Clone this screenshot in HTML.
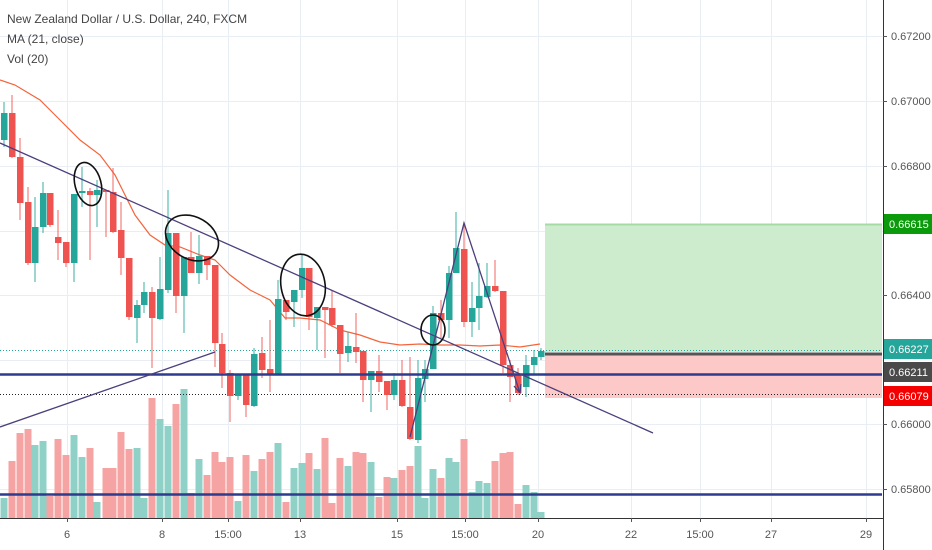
<!DOCTYPE html>
<html><head><meta charset="utf-8">
<style>
html,body{margin:0;padding:0;background:#fff;}
svg{display:block;font-family:"Liberation Sans",sans-serif;}
</style></head>
<body>
<svg id="s" width="932" height="550" viewBox="0 0 932 550" xmlns="http://www.w3.org/2000/svg">
<rect width="932" height="550" fill="#fff"/>
<g id="grid" stroke="#e8eef4" stroke-width="1"></g>
<g id="vol"></g>
<rect x="545" y="224" width="337" height="128" fill="#cdeccd"/>
<line x1="545" y1="224.5" x2="882" y2="224.5" stroke="#a5dba5" stroke-width="2"/>
<rect x="545" y="355" width="337" height="43" fill="#fcc8c8"/>
<line x1="0" y1="350.5" x2="882" y2="350.5" stroke="#26a69a" stroke-dasharray="1,2"/>
<line x1="0" y1="394.5" x2="882" y2="394.5" stroke="#222" stroke-dasharray="1,2"/>
<polyline fill="none" stroke="#f4643c" stroke-width="1.2" points="0,80 15,85 40,100 60,120 80,140 100,155 115,175 125,195 135,215 150,235 165,245 180,247 200,255 215,260 230,275 250,290 270,300 285,318 300,318 320,320 340,330 360,335 380,342 400,345 420,344 440,345 460,345 480,346 500,345 520,347 540,344"/>
<g id="cdl"></g>
<line x1="545" y1="354" x2="882" y2="354" stroke="#555" stroke-width="3"/>
<line x1="0" y1="374.5" x2="882" y2="374.5" stroke="#2d3c8e" stroke-width="2.5"/>
<line x1="0" y1="494.5" x2="882" y2="494.5" stroke="#2d3c8e" stroke-width="2.5"/>
<g stroke="#4b3f7d" stroke-width="1.3" fill="none">
<line x1="0" y1="143" x2="653" y2="433"/>
<line x1="0" y1="427" x2="215" y2="352"/>
<polyline points="410,437 464,223 520,393"/>
<polyline points="514,386 520,393 521,384"/>
</g>
<g stroke="#111" stroke-width="1.6" fill="none">
<ellipse cx="88" cy="184" rx="13" ry="22" transform="rotate(-15 88 184)"/>
<ellipse cx="192" cy="238" rx="28" ry="21" transform="rotate(30 192 238)"/>
<ellipse cx="303" cy="285" rx="22" ry="31" transform="rotate(-10 303 285)"/>
<ellipse cx="433" cy="330" rx="12" ry="15"/>
</g>
<line x1="883.5" y1="0" x2="883.5" y2="550" stroke="#333"/>
<line x1="0" y1="518.5" x2="883" y2="518.5" stroke="#333"/>
<g id="ax" font-size="11" fill="#555"></g>
<g font-size="12" fill="#444">
<text x="7" y="23">New Zealand Dollar / U.S. Dollar, 240, FXCM</text>
<text x="7" y="43">MA (21, close)</text>
<text x="7" y="63">Vol (20)</text>
</g>
</svg>
<script>
var NS="http://www.w3.org/2000/svg";
function el(p,t,a,txt){var e=document.createElementNS(NS,t);for(var k in a)e.setAttribute(k,a[k]);if(txt)e.textContent=txt;document.getElementById(p).appendChild(e);return e;}
var xs=[67,162,228,300,397,465,538,631,700,771,866];
xs.forEach(function(x){el("grid","line",{x1:x+.5,y1:0,x2:x+.5,y2:518});});
var ys=[36,101,166,231,295,360,424,489];
ys.forEach(function(y){el("grid","line",{x1:0,y1:y+.5,x2:883,y2:y+.5});});
var G="#26a69a",R="#ef5350";
var C=[[4,140,113,102,147,1],[12,113,157,95,158,0],[20,157,203,138,220,0],[28,202,263,187,265,0],[35,263,227,197,282,1],[43,227,193,182,233,1],[50,193,225,193,227,0],[58,237,243,210,260,0],[66,242,263,242,267,0],[74,263,194,194,282,1],[82,193,191,167,207,1],[90,191,195,188,260,0],[97,195,190,180,227,1],[106,190,192,190,237,0],[113,192,232,168,233,0],[121,230,258,202,275,0],[129,258,317,258,320,0],[137,318,305,300,343,1],[144,305,292,282,313,1],[152,292,318,287,368,0],[160,319,289,257,320,1],[168,290,233,190,293,1],[176,233,296,233,313,0],[184,296,257,257,333,1],[191,257,273,232,273,0],[199,273,256,235,284,1],[207,256,265,256,280,0],[215,265,343,265,367,0],[222,344,373,333,388,0],[230,373,396,370,422,0],[238,396,375,375,400,1],[246,375,405,375,417,0],[254,406,354,348,407,1],[262,353,370,337,378,0],[270,369,375,320,392,0],[278,375,299,280,375,1],[286,300,312,300,320,0],[294,302,290,290,327,1],[302,290,268,255,298,1],[309,268,317,268,330,0],[317,318,307,307,350,1],[325,307,310,307,358,0],[332,308,325,290,327,0],[340,325,354,325,373,0],[348,353,346,332,362,1],[356,347,352,313,363,0],[363,351,380,351,402,0],[371,380,371,371,412,1],[379,371,382,355,392,0],[387,381,395,381,410,0],[394,395,380,373,400,1],[402,380,406,360,407,0],[410,407,439,357,440,0],[418,440,378,360,443,1],[425,379,369,360,402,1],[433,369,313,306,369,1],[441,313,320,300,338,0],[449,320,273,266,338,1],[456,273,248,212,273,1],[464,249,322,223,327,0],[472,322,308,282,337,1],[479,308,296,263,330,1],[487,297,286,263,298,1],[495,286,291,260,292,0],[503,291,365,291,373,0],[510,365,377,360,402,0],[518,375,393,368,395,0],[526,387,365,355,397,1],[534,365,357,350,375,1],[541,357,351,348,360,1]];
var V=[498,461,433,429,445,441,496,439,455,435,457,448,502,468,468,432,449,448,498,398,419,426,404,389,493,459,475,452,462,457,501,455,471,459,452,443,502,468,463,453,469,438,503,458,466,452,453,462,497,477,478,470,466,446,498,469,478,458,462,439,492,481,483,461,453,452,504,485,492,512];
var VC=[1,0,0,0,1,1,0,0,0,1,1,0,1,0,0,0,0,1,1,0,1,1,0,1,0,1,0,0,0,0,1,0,1,0,0,1,0,1,1,0,1,0,0,0,1,0,0,1,0,0,1,0,0,1,1,1,0,1,1,0,1,1,1,0,0,0,0,1,1,1];
C.forEach(function(c,i){var col=c[5]?G:R;var vc=VC[i]?"#8fd0c7":"#f5a4a3";
 el("vol","rect",{x:c[0]-3.5,y:V[i],width:7,height:518-V[i],fill:vc});
 el("cdl","line",{x1:c[0],y1:c[3],x2:c[0],y2:c[4],stroke:col,"stroke-width":1.2,"stroke-opacity":0.75});
 var t=Math.min(c[1],c[2]),h=Math.max(2,Math.abs(c[1]-c[2]));
 el("cdl","rect",{x:c[0]-3,y:t,width:6.5,height:h,fill:col});});
var P=[["0.67200",36],["0.67000",101],["0.66800",166],["0.66400",295],["0.66000",424],["0.65800",489]];
P.forEach(function(p){el("ax","line",{x1:883,y1:p[1]+.5,x2:887,y2:p[1]+.5,stroke:"#555"});el("ax","text",{x:891,y:p[1]+4},p[0]);});
var L=[["0.66615",224,"#0b9a0b"],["0.66227",349,"#26a69a"],["0.66211",372,"#4a4a4a"],["0.66079",396,"#f40000"]];
L.forEach(function(l){el("ax","rect",{x:884,y:l[1]-10,width:48,height:20,fill:l[2]});el("ax","text",{x:889,y:l[1]+4,fill:"#fff"},l[0]);});
var XL=[["6",67],["8",162],["15:00",228],["13",300],["15",397],["15:00",465],["20",538],["22",631],["15:00",700],["27",771],["29",866]];
XL.forEach(function(l){el("ax","line",{x1:l[1]+.5,y1:518,x2:l[1]+.5,y2:522,stroke:"#555"});el("ax","text",{x:l[1],y:538,"text-anchor":"middle"},l[0]);});
</script>
</body></html>
